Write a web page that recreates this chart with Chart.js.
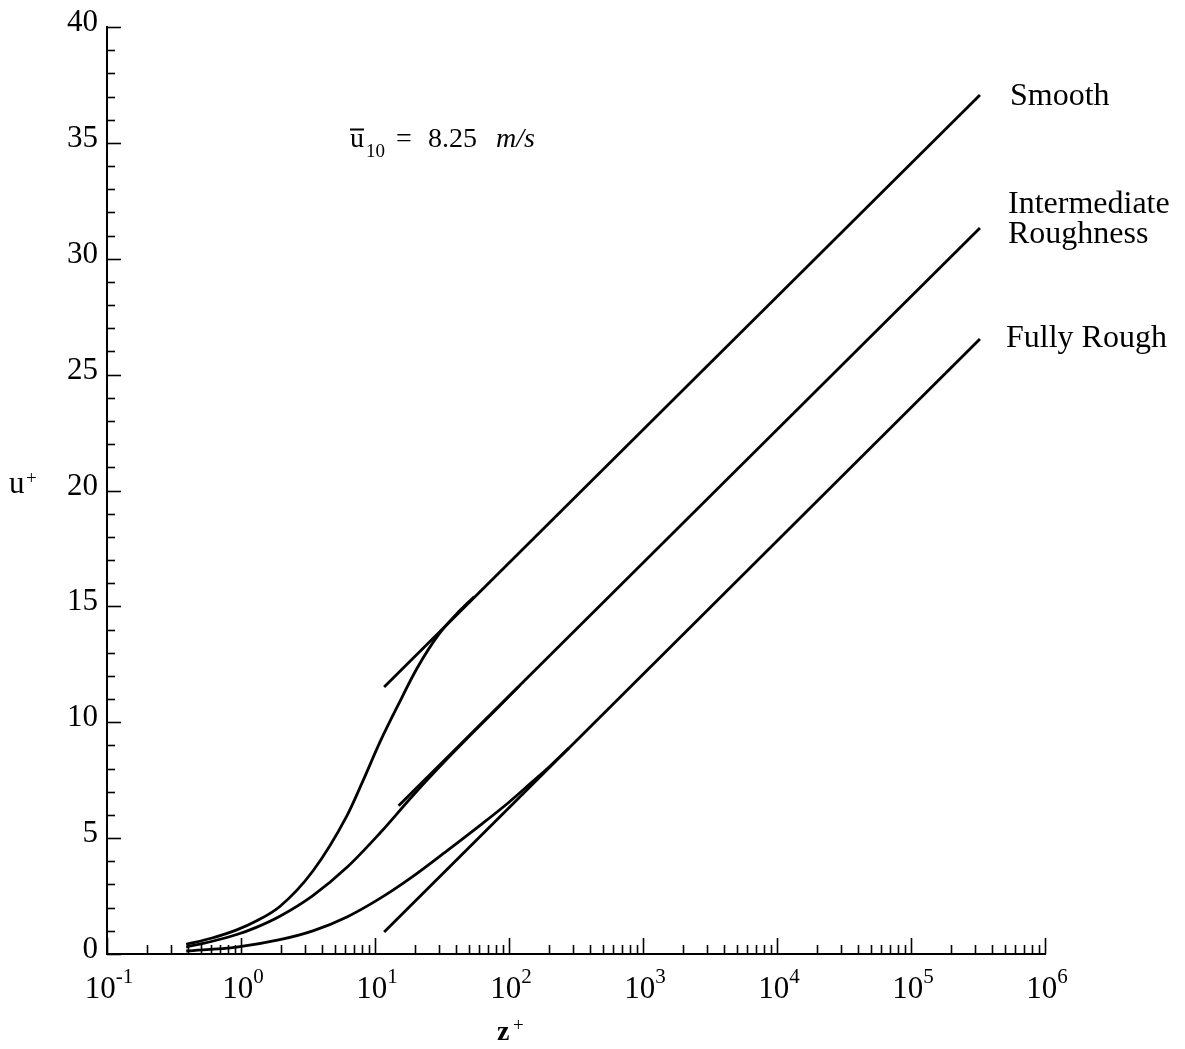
<!DOCTYPE html>
<html>
<head>
<meta charset="utf-8">
<title>u+ vs z+</title>
<script src="https://cdn.jsdelivr.net/npm/chart.js@4.4.1/dist/chart.umd.min.js"></script>
<style>
    html, body { margin: 0; padding: 0; background: #fff; }
    #miGrafica { display: block; }
</style>
</head>
<body>
<canvas id="miGrafica" width="1185" height="1049"></canvas>
<script>
// perfiles completos
const smoothZ = [0.39, 0.6, 0.93, 1.3, 1.95, 3.44, 6.18, 8.13, 10.9, 14.6, 20.6, 30, 40, 55];
const smoothU = [0.42, 0.68, 1.04, 1.42, 2.05, 3.58, 5.97, 7.47, 9.15, 10.65, 12.33, 13.8, 14.63, 15.42];

const interZ = [0.39, 0.6, 0.93, 1.3, 1.95, 3.44, 6.18, 10.9, 19.2, 34.4, 48.6, 80, 120];
const interU = [0.3, 0.54, 0.84, 1.15, 1.63, 2.52, 3.74, 5.22, 6.84, 8.41, 9.3, 10.55, 11.58];

const roughZ = [0.39, 0.93, 1.95, 3.44, 6.18, 10.9, 19.2, 34.4, 60.8, 100, 144, 200, 280];
const roughU = [0.13, 0.3, 0.62, 1.0, 1.6, 2.4, 3.35, 4.45, 5.55, 6.55, 7.35, 8.08, 8.89];

// leyes logaritmicas
const lineaZ = [11.7, 327000];
const lineaInterZ = [15, 327000];
const lineaSmoothU = [11.52, 37.07];
const lineaInterU = [6.4, 31.33];
const lineaRoughU = [0.95, 26.54];

const nombres = ["Smooth", "Intermediate Roughness", "Fully Rough"];
const decadas = [-1, 0, 1, 2, 3, 4, 5, 6];
const ticksY = [0, 5, 10, 15, 20, 25, 30, 35, 40];

const fuente = "'Liberation Serif', 'Times New Roman', serif";

function puntos(zs, us) {
    return zs.map((z, i) => ({ x: z, y: us[i] }));
}

function serie(label, zs, us, curva) {
    return {
        label: label,
        data: puntos(zs, us),
        borderColor: "#000",
        borderWidth: 2.8,
        pointRadius: 0,
        fill: false,
        cubicInterpolationMode: curva ? "monotone" : "default",
        tension: curva ? 0.4 : 0
    };
}

// marcas hacia dentro, numeros y textos
const dibujoEjes = {
    id: "dibujoEjes",
    afterDraw(chart) {
        const ctx = chart.ctx;
        const sx = chart.scales.x;
        const sy = chart.scales.y;
        const x0 = sx.left;
        const y0 = sy.bottom;
        ctx.save();
        ctx.strokeStyle = "#000";
        ctx.fillStyle = "#000";
        ctx.lineWidth = 1.6;

        // eje y: cada unidad
        for (let v = 0; v <= 40; v++) {
            const py = Math.round(sy.getPixelForValue(v)) + 0.5;
            const largo = v % 5 === 0 ? 14 : 8;
            ctx.beginPath();
            ctx.moveTo(x0, py);
            ctx.lineTo(x0 + largo, py);
            ctx.stroke();
        }

        // eje x: decadas y subdivisiones
        decadas.forEach(e => {
            for (let m = 1; m <= 9; m++) {
                if (e === 6 && m > 1) break;
                const px = Math.round(sx.getPixelForValue(m * Math.pow(10, e))) + 0.5;
                const largo = m === 1 ? 16 : 9;
                ctx.beginPath();
                ctx.moveTo(px, y0);
                ctx.lineTo(px, y0 - largo);
                ctx.stroke();
            }
        });

        // numeros del eje y
        ctx.font = "31px " + fuente;
        ctx.textAlign = "right";
        ctx.textBaseline = "alphabetic";
        ticksY.forEach(v => {
            ctx.fillText(String(v), x0 - 9, sy.getPixelForValue(v) + 4);
        });

        // numeros del eje x (10 con exponente)
        decadas.forEach(e => {
            const px = sx.getPixelForValue(Math.pow(10, e));
            const exp = e < 0 ? "-" + Math.abs(e) : String(e);
            ctx.font = "31px " + fuente;
            const w1 = ctx.measureText("10").width;
            ctx.font = "21px " + fuente;
            const w2 = ctx.measureText(exp).width;
            const inicio = px + 2 - (w1 + w2) / 2;
            ctx.textAlign = "left";
            ctx.font = "31px " + fuente;
            ctx.fillText("10", inicio, y0 + 44);
            ctx.font = "21px " + fuente;
            ctx.fillText(exp, inicio + w1, y0 + 29);
        });

        // titulos de ejes
        ctx.textAlign = "left";
        ctx.font = "31px " + fuente;
        ctx.fillText("u", 9, 493);
        ctx.font = "19px " + fuente;
        ctx.fillText("+", 26, 484);

        ctx.font = "bold 28px " + fuente;
        ctx.fillText("z", 497, 1040);
        ctx.font = "19px " + fuente;
        ctx.fillText("+", 513, 1031);

        // nombres de curvas
        ctx.font = "32px " + fuente;
        ctx.fillText(nombres[0], 1010, 105);
        ctx.fillText("Intermediate", 1008, 213);
        ctx.fillText("Roughness", 1008, 243);
        ctx.fillText(nombres[2], 1006, 347);

        // velocidad a 10 m
        ctx.font = "28px " + fuente;
        ctx.fillText("u", 350, 147);
        const wu = ctx.measureText("u").width;
        ctx.lineWidth = 2;
        ctx.beginPath();
        ctx.moveTo(350, 129.5);
        ctx.lineTo(350 + wu, 129.5);
        ctx.stroke();
        ctx.font = "19px " + fuente;
        ctx.fillText("10", 366, 157);
        ctx.font = "28px " + fuente;
        ctx.fillText("=", 396, 147);
        ctx.fillText("8.25", 428, 147);
        ctx.font = "italic 28px " + fuente;
        ctx.fillText("m/s", 496, 147);

        ctx.restore();
    }
};

function crearGrafica() {
    const ctx = document.getElementById("miGrafica").getContext("2d");
    new Chart(ctx, {
        type: "line",
        data: {
            datasets: [
                serie(nombres[0], smoothZ, smoothU, true),
                serie(nombres[1], interZ, interU, true),
                serie(nombres[2], roughZ, roughU, true),
                serie(nombres[0] + " log", lineaZ, lineaSmoothU, false),
                serie(nombres[1] + " log", lineaInterZ, lineaInterU, false),
                serie(nombres[2] + " log", lineaZ, lineaRoughU, false)
            ]
        },
        options: {
            responsive: false,
            devicePixelRatio: 1,
            animation: false,
            plugins: {
                legend: { display: false },
                tooltip: { enabled: false }
            },
            layout: {
                padding: { left: 107, right: 140, top: 27, bottom: 95 }
            },
            scales: {
                x: {
                    type: "logarithmic",
                    min: 0.1,
                    max: 1000000,
                    grid: { display: false, drawTicks: false },
                    ticks: { display: false },
                    border: { display: true, color: "#000", width: 2 }
                },
                y: {
                    type: "linear",
                    min: 0,
                    max: 40,
                    grid: { display: false, drawTicks: false },
                    ticks: { display: false },
                    border: { display: true, color: "#000", width: 2 }
                }
            }
        },
        plugins: [dibujoEjes]
    });
}

document.addEventListener("DOMContentLoaded", () => {
    crearGrafica();
});
</script>
</body>
</html>
